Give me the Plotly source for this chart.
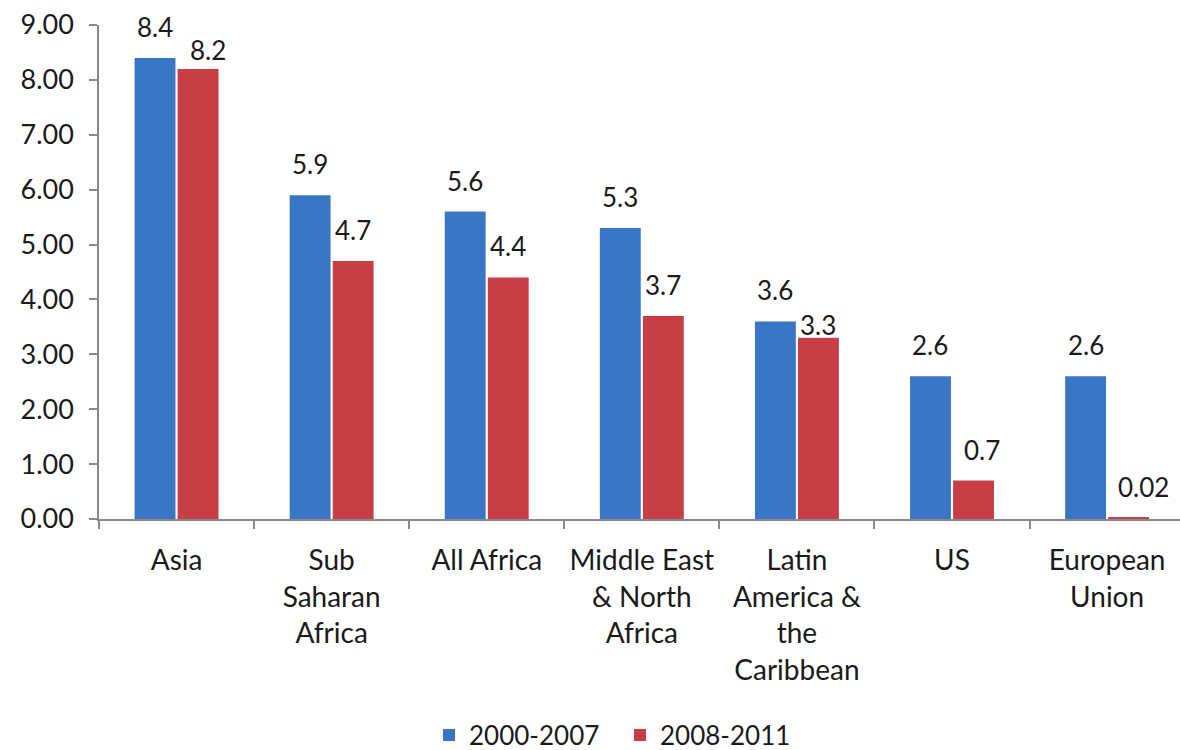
import plotly.graph_objects as go

# Average annual growth rates (%) by region, two periods
regions = ["Asia", "Sub<br>Saharan<br>Africa", "All Africa", "Middle East<br>& North<br>Africa",
           "Latin<br>America &<br>the<br>Caribbean", "US", "European<br>Union"]
growth_2000_2007 = [8.4, 5.9, 5.6, 5.3, 3.6, 2.6, 2.6]
growth_2008_2011 = [8.2, 4.7, 4.4, 3.7, 3.3, 0.7, 0.02]
label_2000_2007 = ["8.4", "5.9", "5.6", "5.3", "3.6", "2.6", "2.6"]
label_2008_2011 = ["8.2", "4.7", "4.4", "3.7", "3.3", "0.7", "0.02"]
series_names = ["2000-2007", "2008-2011"]
y_ticks = [0, 1, 2, 3, 4, 5, 6, 7, 8, 9]

BLUE = "#3A76C6"
RED = "#C73E46"
FONT = "Lato"
TEXT = "#1A1A1A"
AXIS = "#8A8A8A"

BARGAP = 0.445
BARGROUPGAP = 0.05

xs = list(range(len(regions)))

fig = go.Figure()
fig.add_trace(go.Bar(x=xs, y=growth_2000_2007, name=series_names[0],
                     marker=dict(color=BLUE, line=dict(width=0))))
fig.add_trace(go.Bar(x=xs, y=growth_2008_2011, name=series_names[1],
                     marker=dict(color=RED, line=dict(width=0))))

# value labels above each bar; a few are nudged to avoid crowding
half = (1 - BARGAP) / 4
nudges = {(1, 0): (10, -12), (1, 4): (0, -18), (1, 5): (8, 0), (1, 6): (15, 0)}
for s, (vals, labs) in enumerate([(growth_2000_2007, label_2000_2007),
                                  (growth_2008_2011, label_2008_2011)]):
    for i, (v, t) in enumerate(zip(vals, labs)):
        dx, dy = nudges.get((s, i), (0, 0))
        fig.add_annotation(x=i + (half if s else -half), y=v, text=t,
                           showarrow=False, yanchor="middle", xanchor="center",
                           yshift=31 + dy, xshift=dx,
                           font=dict(family=FONT, size=26, color=TEXT))

fig.update_layout(
    width=1180, height=750,
    margin=dict(l=99, r=0, t=25, b=231),
    paper_bgcolor="white", plot_bgcolor="white",
    barmode="group", bargap=BARGAP, bargroupgap=BARGROUPGAP,
    font=dict(family=FONT, size=27, color=TEXT),
    showlegend=True,
    legend=dict(orientation="h", xanchor="center", x=620 / 1180, xref="container",
                yref="container", y=(750 - 735) / 750, yanchor="middle",
                font=dict(family=FONT, size=26, color=TEXT),
                itemwidth=30, tracegroupgap=0,
                entrywidth=146, entrywidthmode="pixels"),
)

fig.update_xaxes(
    range=[-0.5, 6.47], tickmode="array", tickvals=xs, ticktext=regions,
    ticks="", showline=True, linecolor=AXIS, linewidth=1.5, showgrid=False,
    zeroline=False, tickfont=dict(family=FONT, size=28, color=TEXT),
    minor=dict(tickvals=[i - 0.5 for i in range(len(regions) + 1)], ticks="outside",
               ticklen=8, tickcolor=AXIS, tickwidth=1.5, showgrid=False),
    ticklabelstandoff=16,
)
fig.update_yaxes(
    range=[0, 9], tickmode="array", tickvals=y_ticks, tickformat=".2f",
    ticks="outside", ticklen=8, tickcolor=AXIS, tickwidth=1.5,
    showline=True, linecolor=AXIS, linewidth=1.5, showgrid=False, zeroline=False,
    tickfont=dict(family=FONT, size=27, color=TEXT), ticklabelstandoff=10,
)

fig.write_html("out.html")
